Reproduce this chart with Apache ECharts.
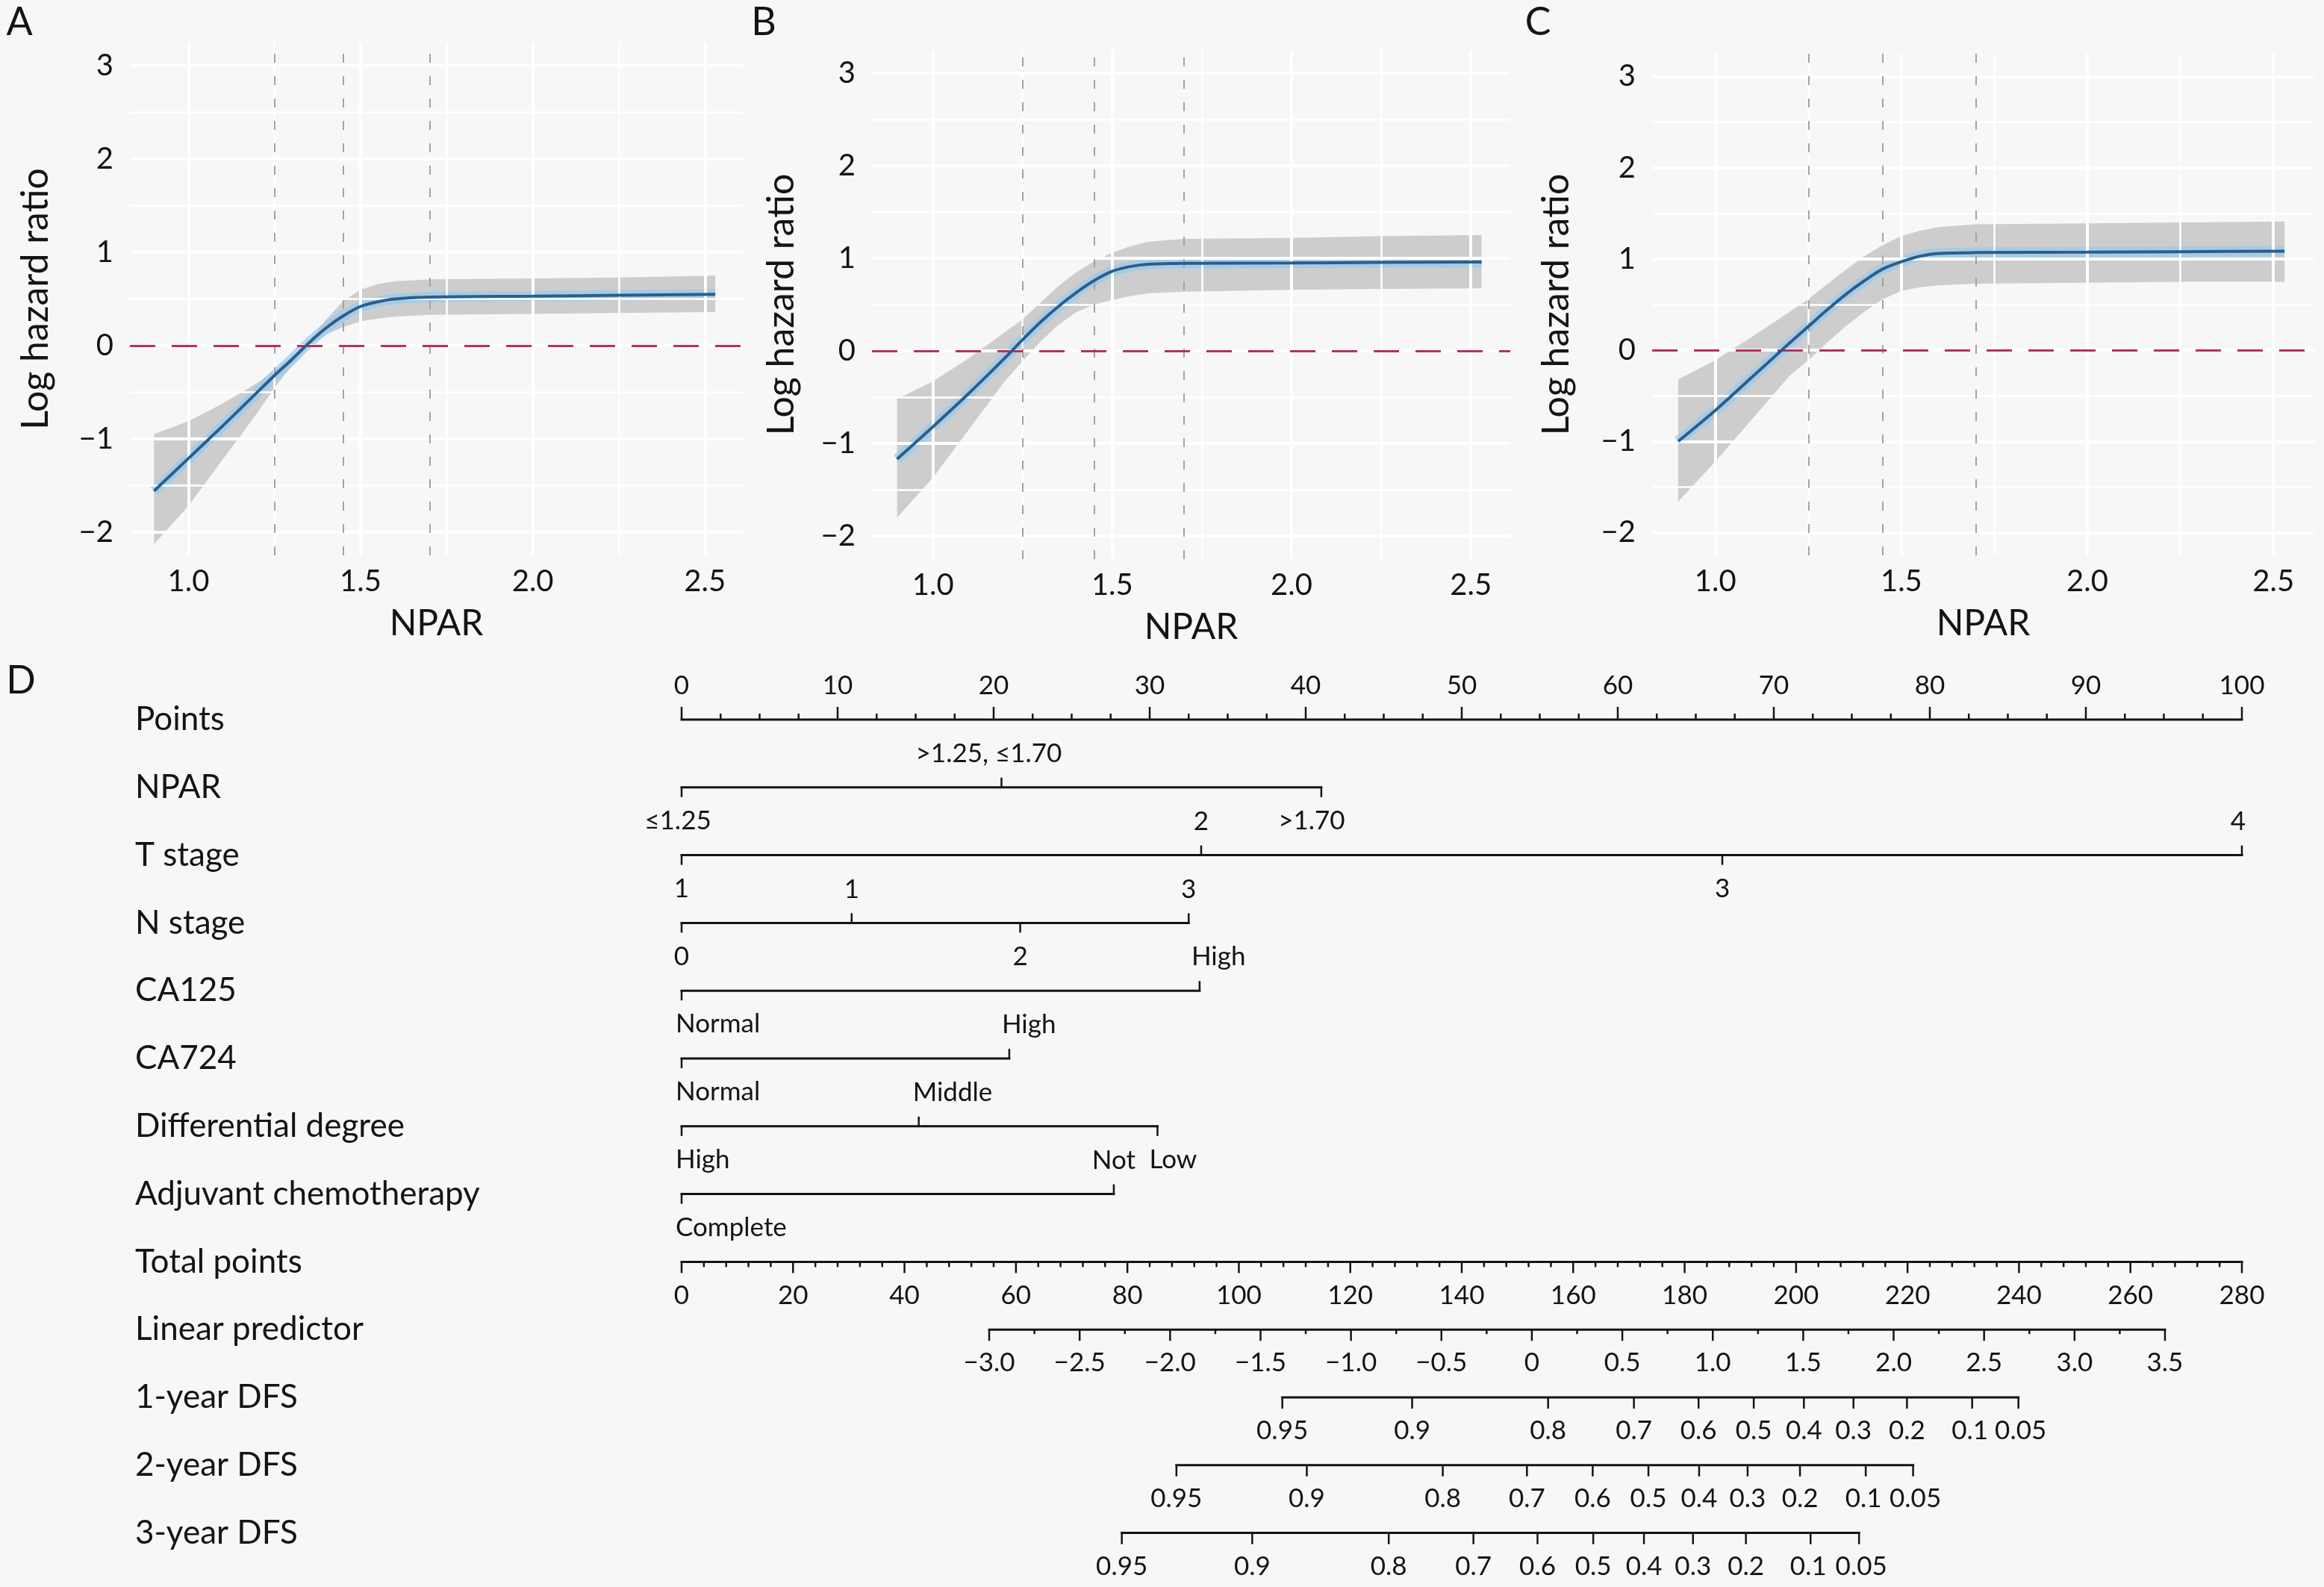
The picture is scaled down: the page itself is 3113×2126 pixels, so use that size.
<!DOCTYPE html>
<html>
<head>
<meta charset="utf-8">
<script src="https://cdn.jsdelivr.net/npm/echarts@6/dist/echarts.min.js"></script>
<style>
  html, body { margin: 0; padding: 0; background: #f7f7f7; }
  #main { width: 3113px; height: 2126px; }
</style>
</head>
<body>
<div id="main"></div>
<script>
var chartDom = document.getElementById('main');
var myChart = echarts.init(chartDom);
var option;

var FONT = 'Lato';
var INK = '#141414';

// ---- panels A-C: log hazard ratio vs NPAR ----
var nparX = [0.9, 1.0, 1.1, 1.2, 1.25, 1.3, 1.35, 1.4, 1.45, 1.5, 1.55, 1.6, 1.7, 2.0, 2.25, 2.53];

var fitA = [-1.56, -1.21, -0.86, -0.50, -0.32, -0.15, 0.03, 0.19, 0.32, 0.42, 0.47, 0.50, 0.52, 0.53, 0.54, 0.55];
var upA  = [-0.95, -0.81, -0.62, -0.40, -0.27, -0.12, 0.05, 0.28, 0.48, 0.60, 0.66, 0.69, 0.71, 0.72, 0.73, 0.75];
var loA  = [-2.13, -1.72, -1.22, -0.72, -0.45, -0.22, 0.00, 0.12, 0.20, 0.26, 0.29, 0.31, 0.33, 0.34, 0.35, 0.36];

var fitB = [-1.17, -0.82, -0.46, -0.08, 0.12, 0.31, 0.48, 0.63, 0.76, 0.86, 0.91, 0.935, 0.945, 0.95, 0.955, 0.96];
var upB  = [-0.52, -0.33, -0.08, 0.20, 0.34, 0.52, 0.70, 0.85, 0.97, 1.06, 1.13, 1.18, 1.21, 1.22, 1.24, 1.25];
var loB  = [-1.80, -1.37, -0.85, -0.33, -0.11, 0.10, 0.28, 0.42, 0.50, 0.55, 0.59, 0.62, 0.64, 0.66, 0.67, 0.675];

var fitC = [-1.00, -0.66, -0.29, 0.08, 0.26, 0.44, 0.61, 0.76, 0.89, 0.97, 1.03, 1.06, 1.07, 1.075, 1.08, 1.085];
var upC  = [-0.32, -0.11, 0.15, 0.42, 0.56, 0.72, 0.88, 1.03, 1.15, 1.25, 1.31, 1.35, 1.38, 1.39, 1.40, 1.41];
var loC  = [-1.66, -1.22, -0.75, -0.28, -0.11, 0.08, 0.26, 0.42, 0.56, 0.65, 0.69, 0.71, 0.73, 0.74, 0.75, 0.75];

var cutpoints = [1.25, 1.45, 1.7];
var xTickValues = [1.0, 1.5, 2.0, 2.5];
var yTickValues = [-2, -1, 0, 1, 2, 3];
var xGridMajor = [1.0, 1.5, 2.0, 2.5];
var xGridMinor = [1.25, 1.75, 2.25];
var yGridMajor = [-2, -1, 0, 1, 2, 3];
var yGridMinor = [-1.5, -0.5, 0.5, 1.5, 2.5];

// ---- panel D: nomogram ----
var rowNames = ['Points', 'NPAR', 'T stage', 'N stage', 'CA125', 'CA724', 'Differential degree',
  'Adjuvant chemotherapy', 'Total points', 'Linear predictor', '1-year DFS', '2-year DFS', '3-year DFS'];

var nparLevels = ['≤1.25', '>1.25, ≤1.70', '>1.70'];
var nparPts = [0, 20.5, 41.0];
var tLevels = ['1', '2', '3', '4'];
var tPts = [0, 33.3, 66.7, 100];
var nLevels = ['0', '1', '2', '3'];
var nPts = [0, 10.9, 21.7, 32.5];
var ca125Levels = ['Normal', 'High'];
var ca125Pts = [0, 33.2];
var ca724Levels = ['Normal', 'High'];
var ca724Pts = [0, 21.0];
var diffLevels = ['High', 'Middle', 'Low'];
var diffPts = [0, 15.2, 30.5];
var adjLevels = ['Complete', 'Not'];
var adjPts = [0, 27.7];

var lpTicks = [-3.0, -2.5, -2.0, -1.5, -1.0, -0.5, 0, 0.5, 1.0, 1.5, 2.0, 2.5, 3.0, 3.5];
var lpTotalAt = [55.2, 266.2]; // total points at lp -3.0 and 3.5
var dfsLabels = ['0.95', '0.9', '0.8', '0.7', '0.6', '0.5', '0.4', '0.3', '0.2', '0.1', '0.05'];
var dfs1Total = [107.8, 131.1, 155.5, 170.9, 182.5, 192.4, 201.4, 210.3, 219.9, 231.6, 239.9];
var dfs2Total = [88.8, 112.2, 136.6, 151.7, 163.5, 173.5, 182.6, 191.3, 200.7, 212.5, 221.0];
var dfs3Total = [79.0, 102.4, 126.9, 142.1, 153.6, 163.6, 172.7, 181.5, 191.0, 202.6, 211.3];

// label placement tweaks (layout only)
var labelAnchor = {
  'NPAR|≤1.25': { dx: -5 },
  'NPAR|>1.25, ≤1.70': { dx: -17 },
  'NPAR|>1.70': { dx: -13 },
  'T stage|4': { dx: -5 },
  'CA125|Normal': { align: 'left', dx: -8 },
  'CA125|High': { align: 'left', dx: -11 },
  'CA724|Normal': { align: 'left', dx: -8 },
  'CA724|High': { align: 'left', dx: -10 },
  'Differential degree|High': { align: 'left', dx: -8 },
  'Differential degree|Middle': { align: 'left', dx: -8 },
  'Differential degree|Low': { align: 'left', dx: -11 },
  'Adjuvant chemotherapy|Complete': { align: 'left', dx: -8 },
  '1-year DFS|0.1': { dx: -3 },
  '1-year DFS|0.05': { dx: 3 },
  '2-year DFS|0.1': { dx: -3 },
  '2-year DFS|0.05': { dx: 3 },
  '3-year DFS|0.1': { dx: -3 },
  '3-year DFS|0.05': { dx: 3 }
};

var panelLayout = [
  { letter: 'A', letterX: 26, left: 174, top: 57, width: 821, height: 687, nameGap: 101 },
  { letter: 'B', letterX: 1023, left: 1168, top: 67, width: 855, height: 682, nameGap: 96 },
  { letter: 'C', letterX: 2060, left: 2213, top: 72, width: 887, height: 672, nameGap: 103 }
];
var panelData = [[fitA, upA, loA], [fitB, upB, loB], [fitC, upC, loC]];

function fmtMinus(v, digits) {
  var s = digits ? Math.abs(v).toFixed(digits) : String(Math.abs(v));
  return (v < 0 ? '\u2212' : '') + s;
}

var grids = [], xAxes = [], yAxes = [], series = [], graphics = [];

panelLayout.forEach(function (L, k) {
  var fit = panelData[k][0], up = panelData[k][1], lo = panelData[k][2];
  grids.push({ left: L.left, top: L.top, width: L.width, height: L.height, outerBoundsMode: 'none' });
  xAxes.push({
    gridIndex: k, type: 'value', min: 0.83, max: 2.61,
    axisLine: { show: false }, axisTick: { show: false }, splitLine: { show: false },
    axisLabel: {
      customValues: xTickValues, margin: 15, fontSize: 40, fontFamily: FONT, color: INK,
      formatter: function (v) { return v.toFixed(1); }
    },
    name: 'NPAR', nameLocation: 'middle', nameGap: 68,
    nameTextStyle: { fontSize: 48, fontFamily: FONT, color: INK }
  });
  yAxes.push({
    gridIndex: k, type: 'value', min: -2.25, max: 3.25,
    axisLine: { show: false }, axisTick: { show: false }, splitLine: { show: false },
    axisLabel: {
      customValues: yTickValues, margin: 22, fontSize: 40, fontFamily: FONT, color: INK,
      formatter: function (v) { return fmtMinus(v); }
    },
    name: 'Log hazard ratio', nameLocation: 'middle', nameGap: L.nameGap, nameRotate: 90,
    nameTextStyle: { fontSize: 50, fontFamily: FONT, color: INK }
  });

  var gridMarks = [];
  xGridMajor.forEach(function (v) { gridMarks.push({ xAxis: v, lineStyle: { width: 4 } }); });
  xGridMinor.forEach(function (v) { gridMarks.push({ xAxis: v, lineStyle: { width: 2.5 } }); });
  yGridMajor.forEach(function (v) { gridMarks.push({ yAxis: v, lineStyle: { width: 4 } }); });
  yGridMinor.forEach(function (v) { gridMarks.push({ yAxis: v, lineStyle: { width: 2.5 } }); });

  // background grid lines
  series.push({
    type: 'line', xAxisIndex: k, yAxisIndex: k, z: 1, silent: true,
    data: [[1.0, 0]], symbol: 'none', lineStyle: { opacity: 0 },
    markLine: {
      silent: true, symbol: 'none', label: { show: false }, animation: false,
      lineStyle: { color: '#ffffff', type: 'solid' }, data: gridMarks
    }
  });

  // confidence band
  series.push({
    type: 'custom', xAxisIndex: k, yAxisIndex: k, z: 2, silent: true,
    data: nparX.map(function (x, i) { return [x, up[i], lo[i]]; }),
    encode: { x: 0, y: [1, 2] },
    renderItem: function (params, api) {
      if (params.dataIndex !== 0) return null;
      var pts = [];
      for (var i = 0; i < nparX.length; i++) pts.push(api.coord([nparX[i], up[i]]));
      for (var j = nparX.length - 1; j >= 0; j--) pts.push(api.coord([nparX[j], lo[j]]));
      return { type: 'polygon', shape: { points: pts }, style: { fill: '#cdcdcd' } };
    }
  });

  // reference lines: cutpoints and zero
  series.push({
    type: 'line', xAxisIndex: k, yAxisIndex: k, z: 3, silent: true,
    data: [[1.0, 0]], symbol: 'none', lineStyle: { opacity: 0 },
    markLine: {
      silent: true, symbol: 'none', label: { show: false }, animation: false,
      data: cutpoints.map(function (c) {
        return { xAxis: c, lineStyle: { color: '#a3a3a3', width: 2, type: [12, 18] } };
      }).concat([{ yAxis: 0, lineStyle: { color: '#b3325f', width: 3, type: [34, 22] } }])
    }
  });

  // light blue highlight under the fit
  series.push({
    type: 'line', xAxisIndex: k, yAxisIndex: k, z: 4, silent: true,
    data: nparX.map(function (x, i) { return [x, fit[i]]; }),
    symbol: 'none', smooth: 0.3,
    lineStyle: { color: 'rgba(150,202,240,0.7)', width: 14 }
  });
  // fitted curve
  series.push({
    type: 'line', xAxisIndex: k, yAxisIndex: k, z: 5, silent: true,
    data: nparX.map(function (x, i) { return [x, fit[i]]; }),
    symbol: 'none', smooth: 0.3,
    lineStyle: { color: '#2c5e8c', width: 4 }
  });

  graphics.push({
    type: 'text', x: L.letterX, y: 30,
    style: { text: L.letter, font: '52px ' + FONT, fill: INK, align: 'center', verticalAlign: 'middle' }
  });
});

// ---- nomogram rows ----
function levelRow(name, levels, pts) {
  return {
    name: name,
    ticks: levels.map(function (t, i) {
      return { p: pts[i], text: t, side: i % 2 === 0 ? 'below' : 'above', len: 13 };
    })
  };
}

var nomoRows = [];
var pointTicks = [];
for (var p = 0; p <= 100; p += 2.5) {
  var major = p % 10 === 0;
  pointTicks.push({ p: p, text: major ? String(p) : '', side: 'above', len: major ? 17 : 8 });
}
nomoRows.push({ name: rowNames[0], ticks: pointTicks });
nomoRows.push(levelRow(rowNames[1], nparLevels, nparPts));
nomoRows.push(levelRow(rowNames[2], tLevels, tPts));
nomoRows.push(levelRow(rowNames[3], nLevels, nPts));
nomoRows.push(levelRow(rowNames[4], ca125Levels, ca125Pts));
nomoRows.push(levelRow(rowNames[5], ca724Levels, ca724Pts));
nomoRows.push(levelRow(rowNames[6], diffLevels, diffPts));
nomoRows.push(levelRow(rowNames[7], adjLevels, adjPts));

var totalTicks = [];
for (var tp = 0; tp <= 280; tp += 4) {
  var maj = tp % 20 === 0;
  totalTicks.push({ p: tp * 100 / 280, text: maj ? String(tp) : '', side: 'below', len: maj ? 15 : 7 });
}
nomoRows.push({ name: rowNames[8], ticks: totalTicks });

var lpRow = [];
var lpMin = lpTicks[0], lpMax = lpTicks[lpTicks.length - 1];
function lpToPoints(v) {
  var t = lpTotalAt[0] + (v - lpMin) / (lpMax - lpMin) * (lpTotalAt[1] - lpTotalAt[0]);
  return t * 100 / 280;
}
lpTicks.forEach(function (v, i) {
  lpRow.push({ p: lpToPoints(v), text: v === 0 ? '0' : fmtMinus(v, 1), side: 'below', len: 15 });
  if (i < lpTicks.length - 1) {
    lpRow.push({ p: lpToPoints(v + 0.25), text: '', side: 'below', len: 6 });
  }
});
nomoRows.push({ name: rowNames[9], ticks: lpRow });

[dfs1Total, dfs2Total, dfs3Total].forEach(function (arr, k) {
  nomoRows.push({
    name: rowNames[10 + k],
    ticks: arr.map(function (t, i) {
      return { p: t * 100 / 280, text: dfsLabels[i], side: 'below', len: 15 };
    })
  });
});

grids.push({ left: 913, top: 964, width: 2090, height: 1089.6, outerBoundsMode: 'none' });
xAxes.push({ gridIndex: 3, type: 'value', min: 0, max: 100, show: false });
yAxes.push({ gridIndex: 3, type: 'value', min: 0, max: 12, inverse: true, show: false });

series.push({
  type: 'custom', xAxisIndex: 3, yAxisIndex: 3, silent: true, clip: false,
  data: nomoRows.map(function (r, i) { return [0, i]; }),
  renderItem: function (params, api) {
    var i = params.dataIndex;
    var row = nomoRows[i];
    var y = api.coord([0, i])[1];
    var kids = [];
    kids.push({
      type: 'text',
      style: { text: row.name, x: 181, y: y, font: '44px ' + FONT, fill: INK, align: 'left', verticalAlign: 'middle' }
    });
    var xs = row.ticks.map(function (t) { return api.coord([t.p, i])[0]; });
    var x0 = Math.min.apply(null, xs), x1 = Math.max.apply(null, xs);
    kids.push({ type: 'line', shape: { x1: x0 - 1.5, y1: y, x2: x1 + 1.5, y2: y }, style: { stroke: INK, lineWidth: 3 } });
    row.ticks.forEach(function (t, k) {
      var dir = t.side === 'above' ? -1 : 1;
      kids.push({ type: 'line', shape: { x1: xs[k], y1: y, x2: xs[k], y2: y + dir * t.len }, style: { stroke: INK, lineWidth: 2.5 } });
      if (t.text) {
        var a = labelAnchor[row.name + '|' + t.text] || {};
        kids.push({
          type: 'text',
          style: {
            text: t.text, x: xs[k] + (a.dx || 0), y: y + dir * 45,
            font: '35px ' + FONT, fill: INK, align: a.align || 'center', verticalAlign: 'middle'
          }
        });
      }
    });
    return { type: 'group', children: kids };
  }
});

graphics.push({
  type: 'text', x: 28, y: 912,
  style: { text: 'D', font: '52px ' + FONT, fill: INK, align: 'center', verticalAlign: 'middle' }
});

option = {
  backgroundColor: '#f7f7f7',
  animation: false,
  grid: grids,
  xAxis: xAxes,
  yAxis: yAxes,
  series: series,
  graphic: graphics
};

option && myChart.setOption(option);
</script>
</body>
</html>
